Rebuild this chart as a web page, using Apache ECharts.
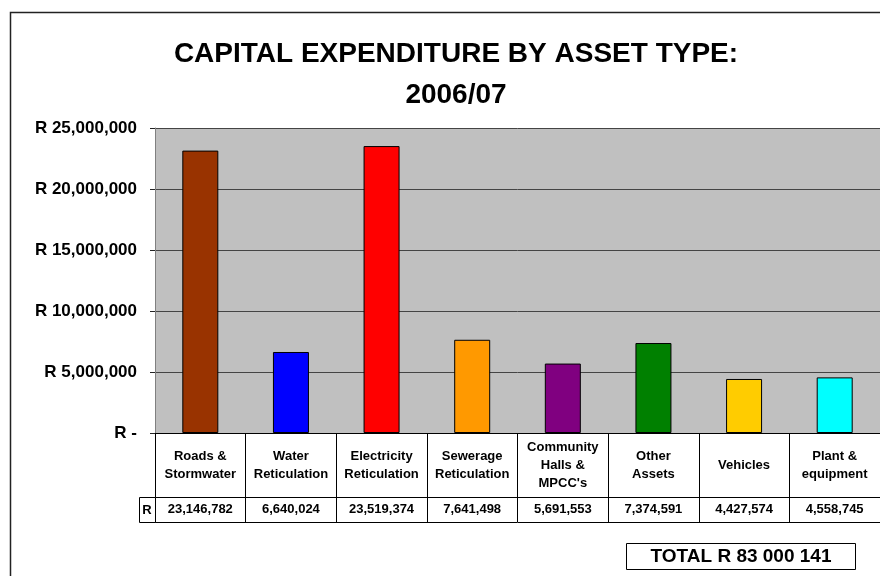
<!DOCTYPE html>
<html>
<head>
<meta charset="utf-8">
<script src="https://cdn.jsdelivr.net/npm/echarts@6/dist/echarts.min.js"></script>
<style>
  html, body { margin: 0; padding: 0; background: #fff; }
  #chart { width: 880px; height: 576px; }
</style>
</head>
<body>
<div id="chart"></div>
<script>
// asset types (table header row)
const categories = [
  'Roads &\nStormwater',
  'Water\nReticulation',
  'Electricity\nReticulation',
  'Sewerage\nReticulation',
  "Community\nHalls &\nMPCC's",
  'Other\nAssets',
  'Vehicles',
  'Plant &\nequipment'
];
// capital expenditure, rand
const values = [23146782, 6640024, 23519374, 7641498, 5691553, 7374591, 4427574, 4558745];
const barColors = ['#993300', '#0000FF', '#FF0000', '#FF9900', '#800080', '#008000', '#FFCC00', '#00FFFF'];
const totalLabel = 'TOTAL R 83 000 141';

const FONT = '"Liberation Sans", Arial, sans-serif';
const GRID_LEFT = 155, GRID_TOP = 128, GRID_H = 305;
const HEAD_ROW = 64, VAL_ROW = 25;
const axisY = GRID_TOP + GRID_H;

const fmtNum = v => v.toLocaleString('en-US');

const chart = echarts.init(document.getElementById('chart'));

const option = {
  animation: false,
  backgroundColor: '#fff',
  title: {
    text: 'CAPITAL EXPENDITURE BY ASSET TYPE:\n2006/07',
    left: 451,
    top: 29,
    textAlign: 'center',
    textStyle: {
      fontFamily: FONT,
      fontSize: 28,
      fontWeight: 'bold',
      color: '#000',
      lineHeight: 41
    }
  },
  grid: {
    left: GRID_LEFT,
    top: GRID_TOP,
    width: 728,
    height: GRID_H,
    show: true,
    backgroundColor: '#C0C0C0',
    borderWidth: 0
  },
  xAxis: [
    {
      // header row: category names, ticks make the cell borders
      type: 'category',
      data: categories,
      position: 'bottom',
      boundaryGap: true,
      axisLine: { show: true, lineStyle: { color: '#000', width: 1 } },
      axisTick: { show: true, interval: 0, length: HEAD_ROW + VAL_ROW, lineStyle: { color: '#000', width: 1 } },
      axisLabel: {
        interval: 0,
        margin: HEAD_ROW / 2,
        verticalAlign: 'middle',
        fontFamily: FONT,
        fontSize: 13,
        fontWeight: 'bold',
        color: '#000',
        lineHeight: 18
      },
      splitLine: { show: false }
    },
    {
      // value row
      type: 'category',
      data: categories,
      position: 'bottom',
      offset: HEAD_ROW,
      axisLine: { show: true, lineStyle: { color: '#000', width: 1 } },
      axisTick: { show: false },
      axisLabel: {
        interval: 0,
        margin: VAL_ROW / 2,
        verticalAlign: 'middle',
        fontFamily: FONT,
        fontSize: 13,
        fontWeight: 'bold',
        color: '#000',
        formatter: (v, i) => fmtNum(values[i])
      },
      splitLine: { show: false }
    },
    {
      // bottom border of the table
      type: 'category',
      data: categories,
      position: 'bottom',
      offset: HEAD_ROW + VAL_ROW,
      axisLine: { show: true, lineStyle: { color: '#000', width: 1 } },
      axisTick: { show: false },
      axisLabel: { show: false },
      splitLine: { show: false }
    }
  ],
  yAxis: {
    type: 'value',
    min: 0,
    max: 25000000,
    interval: 5000000,
    axisLine: { show: true, lineStyle: { color: '#808080' } },
    axisTick: { show: true, length: 5, lineStyle: { color: '#222' } },
    axisLabel: {
      margin: 18,
      fontFamily: FONT,
      fontSize: 17,
      fontWeight: 'bold',
      color: '#000',
      formatter: v => v === 0 ? 'R -' : 'R ' + fmtNum(v)
    },
    splitLine: { show: true, lineStyle: { color: '#444', width: 1 } }
  },
  series: [
    {
      type: 'bar',
      xAxisIndex: 0,
      barWidth: 36,
      data: values.map((v, i) => ({
        value: v,
        itemStyle: { color: barColors[i] }
      })),
      itemStyle: { borderColor: '#000', borderWidth: 1 }
    }
  ],
  graphic: [
    {
      // outer chart frame
      type: 'rect',
      shape: { x: 10.5, y: 12.5, width: 900, height: 600 },
      style: { fill: null, stroke: '#222', lineWidth: 1.5 },
      silent: true,
      z: 100
    },
    {
      // "R" cell left of the value row
      type: 'rect',
      shape: { x: GRID_LEFT - 16 + 0.5, y: axisY + HEAD_ROW + 0.5, width: 16, height: VAL_ROW },
      style: { fill: '#fff', stroke: '#000', lineWidth: 1 },
      z: 50
    },
    {
      type: 'text',
      x: GRID_LEFT - 8,
      y: axisY + HEAD_ROW + VAL_ROW / 2 + 1,
      style: {
        text: 'R',
        font: 'bold 13px ' + FONT,
        fill: '#000',
        align: 'center',
        verticalAlign: 'middle'
      },
      z: 51
    },
    {
      // total box
      type: 'rect',
      shape: { x: 626.5, y: 543.5, width: 229, height: 26 },
      style: { fill: '#fff', stroke: '#000', lineWidth: 1 },
      z: 50
    },
    {
      type: 'text',
      x: 741,
      y: 557,
      style: {
        text: totalLabel,
        font: 'bold 19px ' + FONT,
        fill: '#000',
        align: 'center',
        verticalAlign: 'middle'
      },
      z: 51
    }
  ]
};

chart.setOption(option);
</script>
</body>
</html>
